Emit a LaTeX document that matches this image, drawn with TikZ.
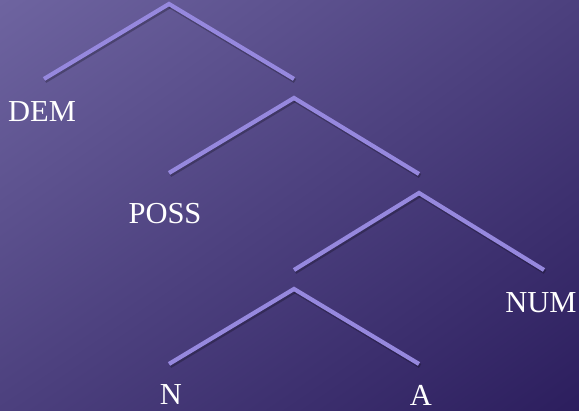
\documentclass[tikz,border=0pt]{standalone}
\usepackage{fontspec}
\setmainfont{Liberation Serif}
\usetikzlibrary{shadings}
\definecolor{bgtl}{RGB}{110,100,160}
\definecolor{bgmid}{RGB}{76,64,126}
\definecolor{bgbr}{RGB}{44,30,94}
\definecolor{branch}{RGB}{150,136,222}
\begin{document}
\begin{tikzpicture}[x=1pt,y=-1pt,
  edge/.style={draw=branch,line width=4.2pt},
  shadowedge/.style={draw=black,opacity=0.25,line width=4.5pt,transform canvas={shift={(1pt,-2pt)}}},
  lbl/.style={text=white,font=\fontsize{30.5}{32}\selectfont,inner sep=0pt}]
\useasboundingbox (0,0) rectangle (579,411);
\shade[upper left=bgtl,upper right=bgmid,lower left=bgmid,lower right=bgbr] (0,0) rectangle (579,411);
% tree points
\coordinate (t1) at (169,4);
\coordinate (t1l) at (44,79);
\coordinate (t1r) at (294,79);
\coordinate (t2) at (294,98);
\coordinate (t2l) at (169,173);
\coordinate (t2r) at (419,174);
\coordinate (t3) at (419,193);
\coordinate (t3l) at (294,270);
\coordinate (t3r) at (544,270);
\coordinate (t4) at (294,289);
\coordinate (t4l) at (169,364);
\coordinate (t4r) at (419,364);
\foreach \a/\b in {t1/t1l,t1/t1r,t2/t2l,t2/t2r,t3/t3l,t3/t3r,t4/t4l,t4/t4r}{
  \draw[shadowedge] (\a) -- (\b);
}
\foreach \a/\b/\c in {t1l/t1/t1r,t2l/t2/t2r,t3l/t3/t3r,t4l/t4/t4r}{
  \draw[edge] (\a) -- (\b) -- (\c);
}
\node[lbl] (dem) at (42,112) {DEM};
\node[lbl] (poss) at (165,214) {POSS};
\node[lbl] (num) at (541,303) {NUM};
\node[lbl] (n) at (171,395) {N};
\node[lbl] (a) at (421,395) {A};
\end{tikzpicture}
\end{document}
